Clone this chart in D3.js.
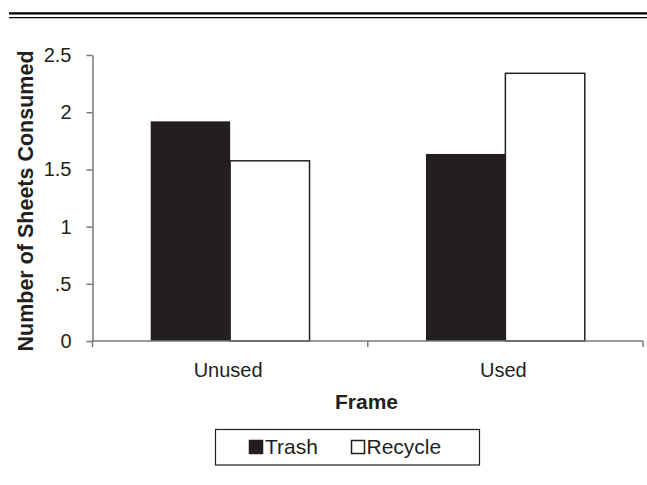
<!DOCTYPE html>
<html>
<head>
<meta charset="utf-8">
<script src="https://cdn.jsdelivr.net/npm/d3@7"></script>
<style>
  body { margin: 0; background: #fff; }
  text { font-family: "Liberation Sans", Arial, Helvetica, sans-serif; fill: #231f20; }
</style>
</head>
<body>
<div id="chart"></div>
<script>
// ---- data ----
const frames = ["Unused", "Used"];
const groups = ["Trash", "Recycle"];
const trash = [1.92, 1.635];
const recycle = [1.575, 2.34];
const yTicks = [0, 0.5, 1, 1.5, 2, 2.5];
const yTickLabels = ["0", ".5", "1", "1.5", "2", "2.5"];

const W = 647, H = 485;
const ink = "#231f20";
const axisColor = "#777";

const svg = d3.select("#chart").append("svg")
    .attr("width", W)
    .attr("height", H);

// double rule at the top
svg.append("line")
    .attr("x1", 9).attr("x2", W).attr("y1", 13.3).attr("y2", 13.3)
    .attr("stroke", "#000").attr("stroke-width", 2.2);
svg.append("line")
    .attr("x1", 9).attr("x2", W).attr("y1", 17.7).attr("y2", 17.7)
    .attr("stroke", "#000").attr("stroke-width", 1.3);

// ---- scales ----
const plot = {left: 92.5, right: 643, top: 55, bottom: 341};

const x0 = d3.scaleBand()
    .domain(frames)
    .range([plot.left, plot.right])
    .paddingInner(0.423)
    .paddingOuter(0.2115);

const x1 = d3.scaleBand()
    .domain(groups)
    .range([0, x0.bandwidth()]);

const y = d3.scaleLinear()
    .domain([0, 2.5])
    .range([plot.bottom, plot.top]);

const rows = frames.map((f, i) => ({frame: f, Trash: trash[i], Recycle: recycle[i]}));

// ---- bars ----
const fills = {Trash: ink, Recycle: "#fff"};

svg.append("g")
  .selectAll("g")
  .data(rows)
  .join("g")
    .attr("transform", d => `translate(${x0(d.frame)},0)`)
  .selectAll("rect")
  .data(d => groups.map(k => ({key: k, value: d[k]})))
  .join("rect")
    .attr("x", d => x1(d.key))
    .attr("width", x1.bandwidth())
    .attr("y", d => y(d.value))
    .attr("height", d => y(0) - y(d.value))
    .attr("fill", d => fills[d.key])
    .attr("stroke", ink)
    .attr("stroke-width", d => d.key === "Recycle" ? 1.5 : 0);

// ---- axes ----
const yAxis = svg.append("g")
    .attr("transform", `translate(${plot.left},0)`)
    .call(d3.axisLeft(y)
        .tickValues(yTicks)
        .tickFormat((d, i) => yTickLabels[i])
        .tickSize(6)
        .tickSizeOuter(0)
        .tickPadding(15));

yAxis.select(".domain").attr("stroke", axisColor).attr("stroke-width", 1.5);
yAxis.selectAll(".tick line").attr("stroke", axisColor).attr("stroke-width", 1.5);
yAxis.selectAll(".tick text")
    .attr("font-size", 20)
    .attr("font-family", null)
    .attr("fill", ink);

// x axis: ticks at the band boundaries, labels at the band centres
const xAxis = svg.append("g")
    .attr("transform", `translate(0,${plot.bottom})`);

xAxis.append("line")
    .attr("x1", plot.left).attr("x2", plot.right)
    .attr("stroke", axisColor).attr("stroke-width", 1.5);

const boundaries = [plot.left, (plot.left + plot.right) / 2, plot.right];
xAxis.selectAll(".xt")
  .data(boundaries)
  .join("line")
    .attr("class", "xt")
    .attr("x1", d => d).attr("x2", d => d)
    .attr("y1", 0).attr("y2", 6)
    .attr("stroke", axisColor).attr("stroke-width", 1.5);

xAxis.selectAll(".xl")
  .data(frames)
  .join("text")
    .attr("class", "xl")
    .attr("x", d => x0(d) + x0.bandwidth() / 2 - 2)
    .attr("y", 36)
    .attr("text-anchor", "middle")
    .attr("font-size", 20)
    .text(d => d);

// ---- axis titles ----
svg.append("text")
    .attr("x", 366.5)
    .attr("y", 408.5)
    .attr("text-anchor", "middle")
    .attr("font-size", 21)
    .attr("font-weight", "bold")
    .text("Frame");

svg.append("text")
    .attr("transform", "translate(33,201) rotate(-90)")
    .attr("text-anchor", "middle")
    .attr("font-size", 21.5)
    .attr("font-weight", "bold")
    .text("Number of Sheets Consumed");

// ---- legend ----
const legend = svg.append("g");

legend.append("rect")
    .attr("x", 215.5).attr("y", 429.5)
    .attr("width", 264).attr("height", 35.5)
    .attr("fill", "#fff")
    .attr("stroke", ink)
    .attr("stroke-width", 1.2);

const legendItems = [
    {name: "Trash", sx: 249.5, tx: 265},
    {name: "Recycle", sx: 351.5, tx: 366.5}
];

legend.selectAll(".sw")
  .data(legendItems)
  .join("rect")
    .attr("class", "sw")
    .attr("x", d => d.sx)
    .attr("y", 440.5)
    .attr("width", 13)
    .attr("height", 13)
    .attr("fill", d => fills[d.name])
    .attr("stroke", ink)
    .attr("stroke-width", 1.5);

legend.selectAll(".lt")
  .data(legendItems)
  .join("text")
    .attr("class", "lt")
    .attr("x", d => d.tx)
    .attr("y", 453.5)
    .attr("font-size", 21)
    .text(d => d.name);
</script>
</body>
</html>
